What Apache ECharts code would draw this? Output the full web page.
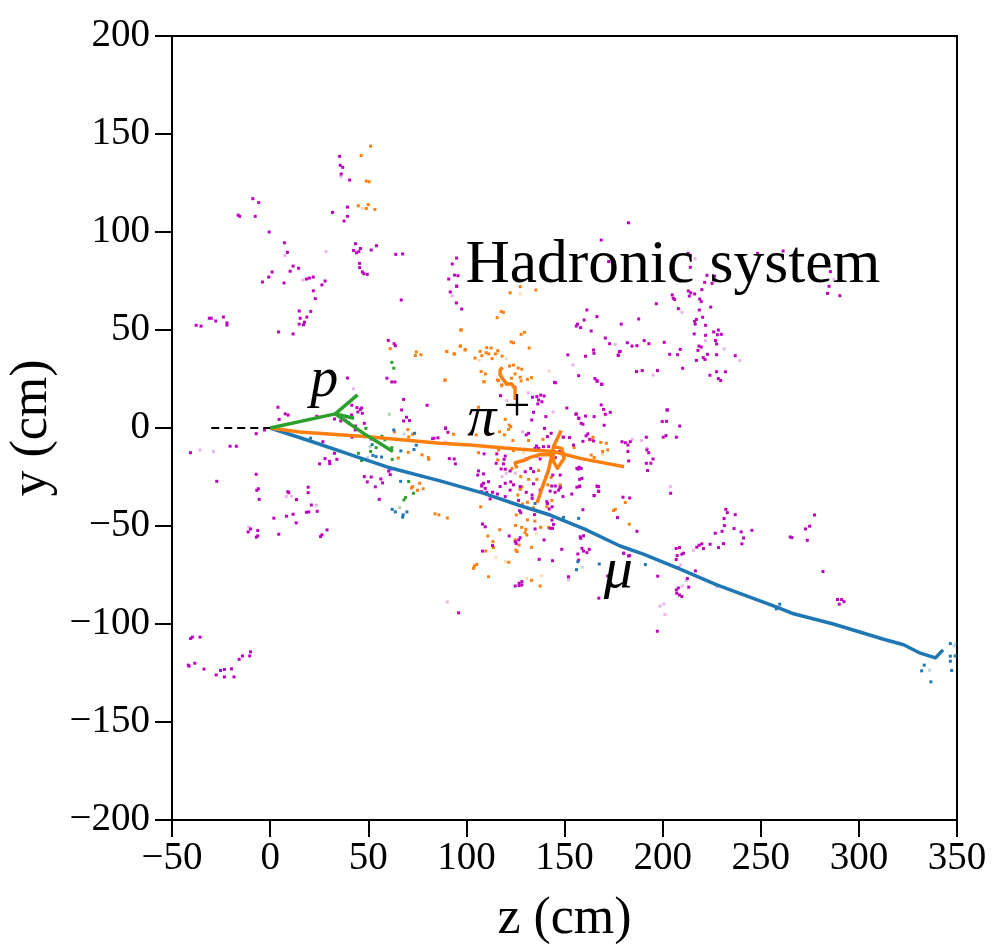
<!DOCTYPE html>
<html><head><meta charset="utf-8">
<style>html,body{margin:0;padding:0;background:#fff}#c{width:1000px;height:950px}</style>
<script src="https://cdn.jsdelivr.net/npm/echarts@6/dist/echarts.min.js"></script>
</head><body><div id="c"></div>
<script>
const xTicks=[-50,350,50], yTicks=[-200,200,50];
const beamLine=[[-30,0],[0,0]];
const muonTrack=[[0,0],[20,-6.5],[45,-15],[60,-20],[86.6,-27],[108.5,-33.2],[126.4,-39.3],[142.7,-44.4],[160,-51.5],[178.3,-60.2],[190.2,-64.4],[208,-71.6],[227.6,-80],[258.2,-91.4],[266.7,-94.8],[287,-100],[312.6,-107.8],[322.8,-110.6],[331.3,-114.9],[339,-117.3],[342.9,-113.2]];
const pionTrack=[[0,0],[15,-2],[50,-4.5],[86.6,-7.8],[101.9,-8.7],[122.3,-10.4],[144.4,-12],[158,-15.5],[180.4,-19.8]];
const pionBranch=[[148.3,-1.3],[144.4,-9.5],[141.9,-21.4],[138.5,-30.8],[136,-38.3]];
const pionCurl=[[144.4,-9.5],[148.6,-10.4],[149.8,-15.4],[146.4,-20.6],[144.4,-17.2],[144.4,-13.5],[136.8,-13.7],[132.5,-15],[129.9,-16.3],[124.9,-17.7],[125.7,-20.6]];
const pionCurlUpper=[[118.4,31],[117.2,29.6],[117.2,27],[118.9,24.5],[120.6,22.5],[123.1,22.5],[124.8,20],[124.9,14.3]];
const protonTrack=[[0,0],[33.2,7.2]];
const protonBranchA=[[33.2,7.2],[44.5,16.9]];
const protonBranchB=[[33.2,7.2],[42.8,5]];
const protonBranchC=[[33.2,7.2],[48,-3],[62.6,-12]];
const magenta=[[35.4,138.6],[35.7,134],[37,133],[36.2,129.6],[40.5,126.5],[-8.8,117],[-5.8,115],[-16.3,108.6],[-15.5,108],[-7.6,108],[31.8,110],[39.4,112.7],[39.4,108],[37.7,105.6],[-0.5,100],[7.3,94.5],[8.8,89.6],[11.7,82.6],[14.5,81.5],[10.2,80],[1,79.6],[-0.7,77],[-3.9,74.5],[7.1,74],[18.5,76],[20,76.5],[22,77],[28,75],[26.4,73],[22,70],[23,66],[14.8,59.7],[20.7,59.5],[15.3,56],[18.7,56.6],[17.5,54],[14.8,53],[17,52.7],[11.7,48],[4.3,49],[-37.7,52.4],[-35.2,52],[-31,56],[-30,56],[-27.7,54.6],[-23.8,56.6],[-22,53.6],[-22,52.5],[43.5,94],[46,91.6],[42.5,90.6],[45.2,90],[44,89.4],[51.5,90.8],[54.2,93],[45.6,84],[45.6,81.8],[47,79.6],[47.8,78.7],[49.5,78.4],[64,88.6],[67.5,88.8],[66.8,65.3],[60.2,44.7],[63.2,43],[63.8,42],[59.5,25.4],[62,23.5],[63.6,23.5],[39.4,25.5],[68,14.6],[67,9.2],[80,11.6],[69.5,5.5],[68,3.6],[71,3.8],[89.4,-0.2],[95,86.7],[92.8,83.7],[91,76],[94,78],[95.7,77.7],[95,72.3],[91.8,69.4],[94.9,63.8],[97.6,60.7],[4,10.6],[4.6,4.4],[7.7,7.2],[9.2,6.6],[23.8,6],[40,13],[41.6,11.6],[44.2,10.4],[46.6,10.2],[46,9.5],[44.7,8.2],[41.5,6.7],[47,7.5],[32.8,4.6],[36,3.6],[38.3,4],[39.8,2.7],[43.5,1],[48,2.4],
[-7.1,-2.9],[-2.9,-1],[-20.4,-9.3],[-17.2,-9.3],[-40.6,-12.6],[-7.1,-23.6],[-27.2,-27.2],[-6,-31],[-6.8,-31.8],[-5.6,-36.4],[9,-32.5],[9.5,-33],[19.4,-30.2],[19.4,-33],[13.4,-36.5],[21,-39.3],[24,-42.5],[18.5,-43],[19.7,-42.8],[11.7,-44],[8.3,-45],[1.9,-46],[13.3,-48.4],[4.4,-54.2],[-10,-51.5],[-11.2,-53],[-6.3,-52.3],[-6.3,-55],[-7,-55.7],[29,-52],[26.4,-54.5],[25.7,-55.4],[28,-15.6],[30.3,-17],[34,-16],[30.4,-18.2],[25.2,-18.3],[32.8,-12.9],[26.9,-7],[48,-24.8],[49.5,-27.5],[51.5,-25],[53.6,-30],[56.4,-26],[57.3,-28],[55.6,-36.4],[60.4,-22],[61.2,-20.9],[62.6,-20.7],[61.2,-23.8],[91.3,-15.6],[93.8,-15.8],[94.4,-18.3],[83.5,-5.2],[82.8,-5.4],[85.5,-5],[89.4,0],[90.6,-2.2],[43.4,-1],[41.8,-4.7],[51.5,-5.6],[96,-94.3],[-40.5,-107.4],[-39.6,-106.7],[-35.7,-106.7],[-41.7,-121],[-41.3,-121.5],[-38.4,-120],[-33.7,-123],[-27.5,-126],[-25.3,-123.7],[-23.3,-123.2],[-19.7,-122.9],[-23.3,-127],[-18.4,-127],[-15.8,-118],[-14.1,-116.3],[-10.4,-116.3],[-10,-114.2],
[124.7,20.8],[117.4,16.5],[133.7,15.7],[135.9,16],[137.9,16.8],[139.6,16.3],[136.8,14.3],[136.4,12.3],[138.5,13.4],[134.2,8],[133.3,4.1],[140.5,5.8],[156,7.2],[157.3,5],[139.8,-0.2],[131.7,-2.7],[130.5,-3.5],[143.2,-2.7],[141.3,-4.4],[149.5,-4.7],[152.6,-4.9],[135.7,-9.2],[136.8,-10.4],[135,-10.4],[139.3,-9.5],[141.9,-9.5],[122,-10.4],[147.5,-12],[109,-13.2],[115.5,-13.2],[130.5,-15.8],[135.9,-14.3],[137.6,-15.8],[145.3,-15.1],[119.8,-14.3],[119.2,-16],[118.9,-18.3],[115.2,-18],[117.7,-20.9],[106.2,-21.9],[105.8,-24],[108.7,-23.4],[119.8,-21],[122.3,-21.9],[134.2,-22.3],[132.8,-20.6],[130,-22.3],[147.8,-24],[156.3,-20.6],[144,-24],[140.5,-25.3],[111.3,-27.4],[108.7,-28.2],[107.9,-29],[122.6,-27.5],[124,-29],[119.8,-28.2],[117.2,-29.9],[109.6,-30.8],[127.4,-29.9],[134.2,-28.5],[143.5,-29.6],[147.8,-30.2],[145.3,-29.6],[156.3,-30.2],[145.4,23.1],
[166.7,23.8],[169,22.3],[168.7,11.8],[169.9,9.5],[170.8,7],[173.3,8],[155.8,7],[160.7,6.1],[165.1,5.8],[157.2,5],[158.5,2.4],[159.4,1.9],[170.2,1.4],[161.9,-3],[161,-4],[162.8,-5.8],[164.8,-6.6],[159.4,-6.8],[154.6,-8.7],[179.3,-7],[181,-7.5],[183.5,-7],[182.3,-8.7],[191.7,-4.7],[192,-11.2],[192.9,-12.6],[182.3,-12],[182.7,-16.8],[191.7,-18],[194,-18],[195.1,-15.8],[192.3,-21.7],[157.5,-20],[158.5,-20.6],[157,-21],[157.7,-26.2],[158.9,-25.7],[157.7,-29.9],[166.8,-29.9],[202.2,9.2],[199.8,3.3],[202,3.4],[201.7,-3.9],[200.3,-4.7],[207,-4.7],[208.7,1],
[107.8,-29.6],[107.8,-32.5],[110.4,-32.8],[113.3,-32.8],[115.8,-33.7],[122.3,-31.7],[119.8,-35],[112.1,-36.2],[130.5,-32.8],[133.5,-34.2],[133.5,-35.9],[126.6,-37],[137.6,-31.7],[142.7,-32.2],[147.8,-30.5],[147,-31.7],[145.2,-32.8],[149.2,-35],[153.7,-33.7],[141,-37.6],[141.3,-38.5],[143.7,-40.2],[142.2,-41.3],[157.7,-29.6],[166.5,-29.6],[167.4,-32.2],[165.1,-34.5],[159.4,-41.7],[127.1,-42.2],[127.7,-43.2],[134.7,-44.2],[144.4,-45.2],[143.6,-47],[144.4,-49.2],[143.9,-51.2],[142.7,-51.2],[135,-51.5],[158,-55.5],[159.7,-55],[158.3,-56.3],[121.8,-55.1],[127.4,-56],[126.7,-57.1],[124.9,-58],[125.4,-58.9],[139.6,-57.1],[113.3,-60],[108.2,-49],[109.6,-50.4],[108.2,-62.8],[158.9,-61.4],[162.6,-61.9],[159.7,-62.8],[161.4,-63.6],[156.8,-64.3],[148.6,-61.9],[137.1,-67],[143.9,-67.7],[157.2,-67.4],[152,-75.9],[128.3,-78.4],[126.9,-79.2],[128.3,-80.1],[126.9,-80.4],[124.9,-80.6],
[167.4,-29.9],[167.4,-32.4],[165.1,-34.5],[179.8,-35.3],[183.2,-35.7],[177,-45.7],[186.9,-52.7],[180.1,-63.9],[183.2,-65.1],[172,-75.5],[167.5,-86.8],
[222.6,77.9],[226.5,77.5],[221.4,74.3],[225.2,73.8],[285.5,79.8],[284.8,72.3],[284,68.7],[290.3,67.5],[220,70.6],[213.1,69.9],[214.3,69],[216.3,68.4],[213.6,67.3],[204.9,67.9],[205.4,66.2],[206.1,65.6],[218.9,65.8],[219.7,64.5],[196.8,63.4],[224.5,61.7],[208,60.9],[218.7,60.2],[220.4,56.5],[187.8,55.6],[216.3,54.4],[217.2,55.4],[216.6,53],[178.9,53],[221.9,52.4],[228.4,50],[226,49],[216.1,48],[221.9,47.3],[227.9,47.6],[229.9,47.8],[170.8,45.9],[173,43],[182,43.5],[184.4,41.8],[186.9,42],[190.6,44.6],[193,43],[200.8,43.7],[226.9,44.6],[227.5,42.9],[209,40.1],[218.5,41.8],[219.7,41.3],[218,39.6],[178.4,39.1],[177.4,37.3],[203.6,37.6],[207.6,37.4],[222.9,37.6],[227.5,37.4],[237,36.9],[220.7,35.9],[221.6,35],[217.2,34.5],[210.2,30.5],[186.7,28.8],[189.6,29.3],[197.4,29.3],[227.5,28.7],[232,28.7],[224.1,26.9],[228.4,25.2],[229.6,24.2],[169,22.3],[202.4,9.2],[182.6,104.7],[168.7,95.9],[172.5,84.9],[212.9,89.1],[214.1,82],[248.4,89.1],[261.4,90.3],
[95.1,72.4],[161.4,60.2],[166.5,56.8],[160,55.1],[156.6,53],[156,52],[158.2,51.2],[163.6,49.5],[164.8,39.8],[165,38.1],[160.7,36.6],[178,39],[177.4,37],[151.7,37.3],[157.2,26.7],[144.9,23.3],[165.5,25.2],[166.5,24.2],[168.9,22.3],[151.2,10.2],
[204.1,-33.3],[232.2,-41.5],[233,-43.2],[237,-44.2],[231.3,-46.2],[231.5,-49.8],[236.4,-51.3],[230.3,-52.7],[226.8,-53.7],[240,-53],[245.5,-52.2],[241.2,-56.1],[224.2,-59.3],[231,-59],[240.4,-59.1],[228.5,-61],[220,-59.1],[218.6,-59.8],[217.4,-60.8],[220.8,-61.5],[210.6,-63.9],[209.8,-64.4],[208.6,-61],[206.9,-61.5],[207.4,-65.1],[206.9,-67.1],[207.9,-71.4],[216.7,-72.9],[212.6,-76.8],[213.3,-81.2],[208,-81.6],[207,-82.6],[207.2,-84.3],[208.6,-85.2],[209.8,-86],[197.5,-75.6],[197.3,-103.7],[277.4,-44.4],[274.9,-50.1],[272.8,-51.5],[265,-55.6],[265.9,-55.9],[273.7,-57.3],[281.7,-73.2],[289.1,-87.5],[291.2,-87.5],[292.4,-88.6],[290,-89.9],[180.2,-63.9],[182.6,-65.3]];
const magentaFaint=[[36,128.4],[7.6,88],[16.7,75.5],[28.5,90],[92.8,67.5],[42.5,20],[-35.7,-11.2],[-28.9,-12],[8.2,-35],[10.9,-34.8],[23.5,-39.4],[-10.9,-50.6],[89.3,-7.3],[90.3,-88.7],[131.5,18],[120.6,14],[144.2,8.2],[128.6,-1.9],[120.3,-23.1],[118.2,-24.8],[124.9,-23.1],[184.5,-5.8],[189.3,-6.4],[192,-10.2],[203.9,-29.9],[287.2,75.8],[209.9,59],[175.9,42.7],[221.8,44.6],[231.4,40.3],[239.3,34.4],[195.2,27],[216.5,86.4],[154.3,32.2],[215.7,-62.4],[209.2,-69.9],[212.1,-77.8],[210,-80.6],[198.7,-90.9],[200.6,-89.7],[201.2,-95.2],[227.6,-80.9],[152,-77.5]];
const orange=[[51.2,143.8],[46.4,139],[49,126],[50.5,125.6],[44.9,113.4],[50,114],[49,112],[53.4,111.5],[97.4,50],[61.2,40.5],[74.5,38.8],[74,37],[76.8,37.4],[90,39],[94,37.8],[97,41.8],[99.5,40],[89,24.3],[63.4,-2],[70.2,-0.8],[72.6,-3.2],[70.6,-4.6],[93.5,-3.2],[70.4,-12.4],[65.3,-15.3],[77.4,-13.7],[80.6,-15],[80.8,-16],[72.6,-30],[72,-30.6],[76.2,-28.2],[78,-31],[75.1,-31.8],[84,-43.8],[86,-44.3],[90.3,-45.9],
[109,23.6],[116.4,24.2],[118,22],[120.3,22.5],[106.2,10.6],[119.8,4.4],[121.8,1.5],[122.6,0.7],[121.5,-0.7],[116.9,-1.9],[119.4,-3.5],[111.3,-2.7],[105,-3.5],[123.7,-6.4],[131.7,-6.4],[139,-5.8],[149.2,-4.7],[124,-11.5],[106.2,-12.6],[116.4,-11.2],[116,-16.3],[123.2,-20.6],[127.7,-24.8],[131.7,-26.2],[136.8,-21.7],[135.9,-26.2],[143.2,-25.3],[141.5,-29],[147.8,-29],[154.9,-10],[127.4,-30.8],
[164.5,-4.7],[163.8,-6],[168.5,-7.3],[171.3,-7.8],[172,-11.2],[169.4,-12],[163.6,-13.8],[165.1,-15],
[127.4,72.1],[135.4,70.4],[122.3,69],[117.7,59.4],[118.9,59],[115.7,56.3],[97.1,50],[129.6,48.8],[127.9,47.8],[122.8,43.9],[124,43.5],[132,40.8],[96.8,41.8],[90,39.1],[93.7,37.8],[99.3,39.8],[107,39.1],[110.4,41],[112.6,40.8],[110,38.4],[111.4,37.8],[107.9,36.9],[104.4,35.7],[113.1,35.4],[116,39.5],[114.8,37.8],[118.2,36.7],[107.5,28.8],[109.7,27.6],[89.2,24.5],[109,23.6],[115.8,24.5],[124,32.1],[122,31.6],[126.4,30.6],[128.2,30],[124.8,27.6],[127.4,25.9],[123,25.4],[131.1,24.8],[133.2,25.7],[127.9,24],[118,21.6],
[127.4,-31.3],[126.2,-34.2],[128.3,-30],[131.1,-37.9],[128.6,-38.8],[107.3,-40.2],[134.2,-40.7],[125.4,-44.4],[134.9,-47.5],[131.1,-46.9],[125,-49.7],[128.2,-50.7],[117,-51.9],[137.8,-50.7],[141.9,-50.7],[130.3,-51.7],[129.9,-53.4],[130.8,-54.6],[110.9,-55.1],[124.9,-57.1],[126.9,-59.7],[133.2,-60.9],[125.2,-62.3],[125.8,-63],[109.9,-62.8],[113.5,-58],[113.8,-61],[105.3,-69.6],[104.1,-70.4],[103.6,-71.6],[121.6,-68.5],[111.3,-75.9],[133.2,-77.7],[137.6,-80.6],[143.6,-37],[141,-40.2],[181,-38],[183,-49.1],[175,-42.1],[175.9,-41.5]];
const orangeFaint=[[47,112],[127.4,68.4],[106.5,34.5],[116,38],[120.3,35.4],[142.2,29],[129.1,-12.6],[169.4,-13.5],[135.6,-53.9],[120,-68.2],[130.8,-76.7],[138.3,-75.3],[115,-66]];
const blue=[[20.6,-5.2],[63,-1],[73.6,-2.7],[74.5,-8.8],[73.3,-11],[66.6,-11.7],[52,-8.5],[52.4,-14],[54,-14.6],[56.8,-14.8],[66.5,-27.2],[62.2,-41.5],[63.8,-42.8],[69.7,-42.8],[67.5,-45.5],[67.8,-44.3],[149.5,-45.6],[157.2,-46.1],[135,-38.5],[156.8,-68.2],[156.1,-72.3],[167.7,-69.4],[191.2,-69.7],[259.7,-89.9],[257.9,-92.3],[346.6,-110],[346.6,-116.4],[349.1,-116.3],[346.6,-119],[333.3,-121],[332,-123.9],[347.3,-123.7],[336.7,-129.5]];
const blueFaint=[[68.3,-3],[49.6,-15],[348.5,-111.2],[349.5,-110],[336,-123.6],[159,-71]];
const green=[[62,33.5],[63,30.5],[48.8,-0.2],[57,-4.2],[58.5,-6],[51.2,-12],[54,-10],[62,-10],[62.2,-16],[45,-12.9],[46.6,-16.6],[70.6,-27.3],[73,-33.3],[69,-35.5],[68.2,-36.7]];
const greenFaint=[[60.7,7],[51,-9.5],[66,-40.6]];
const textLabels=[
 {pos:[99.5,67],text:'Hadronic system',size:61.5,style:'normal',align:'left'},
 {pos:[20.4,9.5],text:'p',size:56,style:'italic',align:'left'},
 {pos:[100.4,-10.5],text:'π',size:58,style:'italic',align:'left'},
 {pos:[119,-1.5],text:'+',size:47,style:'normal',align:'left'},
 {pos:[170,-88],text:'μ',size:58,style:'italic',align:'left'}
];
const chart=echarts.init(document.getElementById('c'),null,{renderer:'canvas'});
const font='"Liberation Serif"';
const scat=(name,data,color,op)=>({name,type:'scatter',data,symbol:'rect',symbolSize:3,silent:true,z:2,
 itemStyle:{color,opacity:op}});
const line=(name,data,color,w,extra)=>({name,type:'line',data,symbol:'none',smooth:false,silent:true,z:3,
 lineStyle:Object.assign({color,width:w,cap:'butt',join:'round'},extra||{})});
const axisCommon={axisLine:{onZero:false,lineStyle:{color:'#000',width:2}},
 axisTick:{length:17,lineStyle:{color:'#000',width:2}},splitLine:{show:false},
 axisLabel:{color:'#000',fontFamily:font,fontSize:39,formatter:v=>String(v).replace('-','\u2212')},
 nameLocation:'middle',nameTextStyle:{color:'#000',fontFamily:font,fontSize:52}};
chart.setOption({
 animation:false,backgroundColor:'#fff',
 grid:{left:172,top:36,width:785,height:784,show:true,borderColor:'#000',borderWidth:2,backgroundColor:'#fff',outerBoundsMode:'none'},
 xAxis:Object.assign({},axisCommon,{type:'value',min:xTicks[0],max:xTicks[1],interval:xTicks[2],name:'z (cm)',nameGap:73,
   axisLabel:Object.assign({},axisCommon.axisLabel,{margin:19})}),
 yAxis:Object.assign({},axisCommon,{type:'value',min:yTicks[0],max:yTicks[1],interval:yTicks[2],name:'y (cm)',nameGap:103,
   axisLabel:Object.assign({},axisCommon.axisLabel,{margin:22})}),
 series:[
  scat('orangeFaint',orangeFaint,'#ff7f0e',0.3),scat('magentaFaint',magentaFaint,'#bf00bf',0.3),
  scat('blueFaint',blueFaint,'#1f77b4',0.3),scat('greenFaint',greenFaint,'#2ca02c',0.4),
  scat('orange',orange,'#ff7f0e',1),scat('magenta',magenta,'#bf00bf',1),
  scat('blue',blue,'#1f77b4',1),scat('green',green,'#2ca02c',1),
  line('beam',beamLine,'#000',2,{type:[8,5]}),
  line('muon',muonTrack,'#1f77b4',3.5),
  line('pion',pionTrack,'#ff7f0e',3.5),line('pionBranch',pionBranch,'#ff7f0e',3.5),
  line('pionCurl',pionCurl,'#ff7f0e',3.5),line('pionCurlUpper',pionCurlUpper,'#ff7f0e',3.5),
  line('proton',protonTrack,'#2ca02c',3.5),line('protonA',protonBranchA,'#2ca02c',3.5),
  line('protonB',protonBranchB,'#2ca02c',3.5),line('protonC',protonBranchC,'#2ca02c',3.5),
  {type:'scatter',name:'labels',symbolSize:0,silent:true,z:5,itemStyle:{opacity:1},
   data:textLabels.map(t=>({value:t.pos,label:{show:true,position:'inside',formatter:t.text,color:'#000',opacity:1,
     fontFamily:font,fontSize:t.size,fontStyle:t.style,align:t.align,verticalAlign:'bottom'}}))}
 ]
});
</script></body></html>
